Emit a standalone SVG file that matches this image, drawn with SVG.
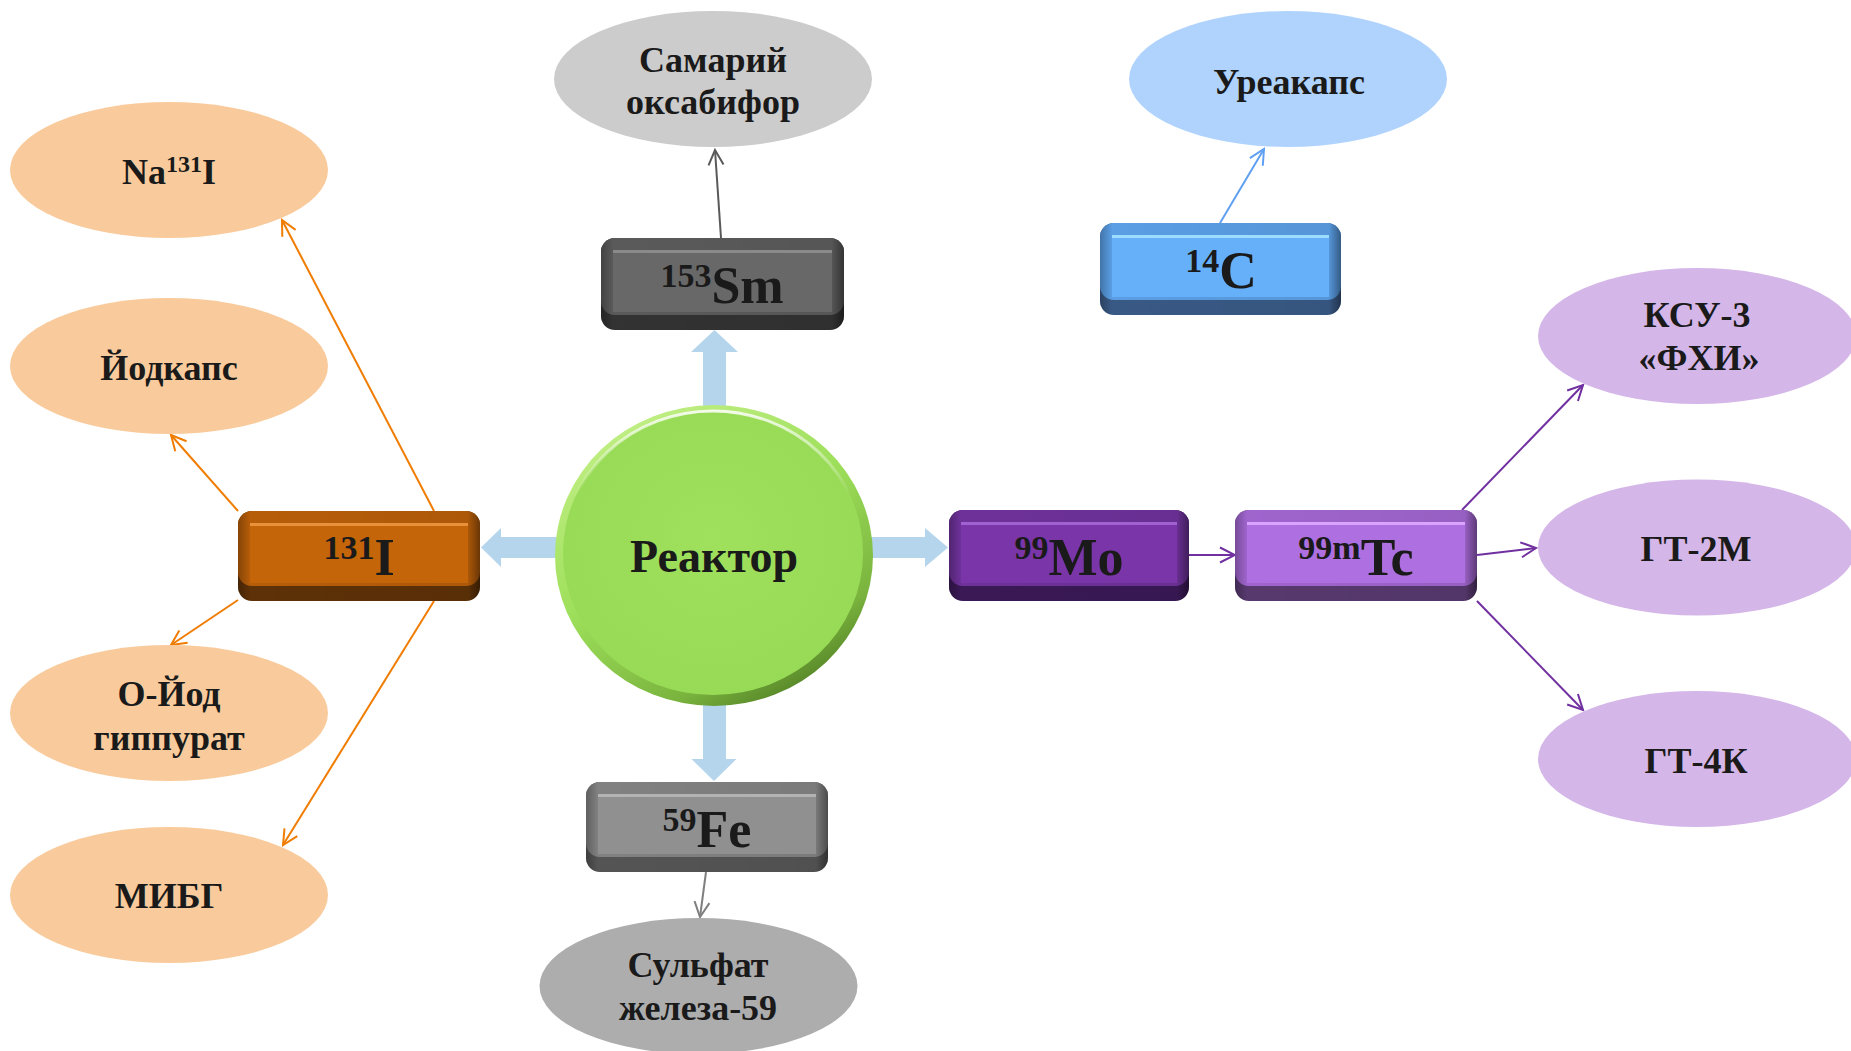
<svg xmlns="http://www.w3.org/2000/svg" width="1851" height="1051" viewBox="0 0 1851 1051">
<style>
text{font-family:"Liberation Serif","Times New Roman",serif;font-weight:bold;fill:#1a1a1a;text-anchor:middle}
.el{font-size:36px}
.bx{font-size:52px}
.sup{font-size:34px}
.ln{fill:none;stroke-width:2}
.blk{fill:#b4d5ec}
.hs{fill:url(#hshade)}
</style>
<defs>
<marker id="mO" viewBox="0 0 18 18" markerWidth="18" markerHeight="18" refX="16" refY="9" orient="auto" markerUnits="userSpaceOnUse"><path d="M1,1.5 L16,9 L1,16.5" fill="none" stroke="#f07c00" stroke-width="2"/></marker>
<marker id="mG" viewBox="0 0 18 18" markerWidth="18" markerHeight="18" refX="16" refY="9" orient="auto" markerUnits="userSpaceOnUse"><path d="M1,1.5 L16,9 L1,16.5" fill="none" stroke="#595959" stroke-width="2"/></marker>
<marker id="mF" viewBox="0 0 18 18" markerWidth="18" markerHeight="18" refX="16" refY="9" orient="auto" markerUnits="userSpaceOnUse"><path d="M1,1.5 L16,9 L1,16.5" fill="none" stroke="#7f7f7f" stroke-width="2"/></marker>
<marker id="mB" viewBox="0 0 18 18" markerWidth="18" markerHeight="18" refX="16" refY="9" orient="auto" markerUnits="userSpaceOnUse"><path d="M1,1.5 L16,9 L1,16.5" fill="none" stroke="#5fa0f2" stroke-width="2"/></marker>
<marker id="mP" viewBox="0 0 18 18" markerWidth="18" markerHeight="18" refX="16" refY="9" orient="auto" markerUnits="userSpaceOnUse"><path d="M1,1.5 L16,9 L1,16.5" fill="none" stroke="#7030a0" stroke-width="2"/></marker>
<linearGradient id="rim" x1="0.2" y1="0" x2="0.8" y2="1">
<stop offset="0" stop-color="#c4f088"/><stop offset="0.45" stop-color="#9ddf5a"/><stop offset="0.8" stop-color="#7ab43e"/><stop offset="1" stop-color="#4a7520"/>
</linearGradient>
<radialGradient id="face" cx="0.5" cy="0.45" r="0.6">
<stop offset="0" stop-color="#9fe05c"/><stop offset="1" stop-color="#97da55"/>
</radialGradient>
<linearGradient id="hl" x1="0" y1="0" x2="0" y2="1">
<stop offset="0" stop-color="#ffffff" stop-opacity="0.85"/><stop offset="0.3" stop-color="#ffffff" stop-opacity="0"/>
</linearGradient>
<linearGradient id="hshade" x1="0" y1="0" x2="1" y2="0">
<stop offset="0" stop-color="#000" stop-opacity="0.3"/><stop offset="0.05" stop-color="#000" stop-opacity="0.05"/><stop offset="0.95" stop-color="#000" stop-opacity="0.1"/><stop offset="1" stop-color="#000" stop-opacity="0.45"/>
</linearGradient>
</defs>

<g id="block-arrows">
<polygon class="blk" points="703,420 703,352 691,352 714.5,330 738,352 726,352 726,420"/>
<polygon class="blk" points="703,690 703,759 691.5,759 714,781 736.5,759 726,759 726,690"/>
<polygon class="blk" points="570,537 501,537 501,528 481,547.5 501,567 501,558 570,558"/>
<polygon class="blk" points="860,537 925,537 925,528 948,547.5 925,567 925,558 860,558"/>
</g>

<g id="connectors">
<line class="ln" stroke="#595959" x1="721" y1="238" x2="715" y2="150" marker-end="url(#mG)"/>
<line class="ln" stroke="#f07c00" x1="434" y1="511" x2="282" y2="220" marker-end="url(#mO)"/>
<line class="ln" stroke="#f07c00" x1="238" y1="511" x2="171" y2="435" marker-end="url(#mO)"/>
<line class="ln" stroke="#f07c00" x1="238" y1="600" x2="171" y2="645" marker-end="url(#mO)"/>
<line class="ln" stroke="#f07c00" x1="434" y1="601" x2="283" y2="845" marker-end="url(#mO)"/>
<line class="ln" stroke="#5fa0f2" x1="1220" y1="223" x2="1264" y2="149" marker-end="url(#mB)"/>
<line class="ln" stroke="#7f7f7f" x1="706" y1="872" x2="700" y2="917" marker-end="url(#mF)"/>
<line class="ln" stroke="#7030a0" x1="1189" y1="555" x2="1235" y2="555" marker-end="url(#mP)"/>
<line class="ln" stroke="#7030a0" x1="1462" y1="510" x2="1583" y2="385" marker-end="url(#mP)"/>
<line class="ln" stroke="#7030a0" x1="1477" y1="555" x2="1536" y2="548" marker-end="url(#mP)"/>
<line class="ln" stroke="#7030a0" x1="1477" y1="601" x2="1583" y2="710" marker-end="url(#mP)"/>
</g>

<g id="reactor">
<ellipse cx="714" cy="555.5" rx="159" ry="150.5" fill="url(#rim)"/>
<ellipse cx="713" cy="553" rx="150" ry="142" fill="url(#face)"/>
<ellipse cx="713" cy="553" rx="150" ry="142" fill="none" stroke="url(#hl)" stroke-width="3"/>
<text x="714" y="572" style="font-size:46px">Реактор</text>
</g>

<g id="samariy">
<ellipse cx="713" cy="79" rx="159" ry="68" fill="#cccccc"/>
<text class="el" x="713" y="72">Самарий</text>
<text class="el" x="713" y="114">оксабифор</text>
</g>

<g id="sm153">
<rect x="601" y="238" width="243" height="92" rx="14" fill="#353535"/>
<rect x="601" y="238" width="243" height="77" rx="14" fill="#5f5f5f"/>
<rect class="hs" x="601" y="238" width="243" height="92" rx="14"/>
<rect x="613" y="250" width="219" height="3" fill="#8a8a8a"/>
<rect x="613" y="253" width="219" height="59" fill="#686868"/>
<text class="bx" x="722" y="303"><tspan class="sup" dy="-16">153</tspan><tspan dy="16">Sm</tspan></text>
</g>

<g id="na131i">
<ellipse cx="169" cy="170" rx="159" ry="68" fill="#f9cb9c"/>
<text class="el" x="169" y="184">Na<tspan style="font-size:24px" dy="-12">131</tspan><tspan dy="12">I</tspan></text>
</g>

<g id="yodkaps">
<ellipse cx="169" cy="366" rx="159" ry="68" fill="#f9cb9c"/>
<text class="el" x="169" y="380">Йодкапс</text>
</g>

<g id="oyod">
<ellipse cx="169" cy="713" rx="159" ry="68" fill="#f9cb9c"/>
<text class="el" x="169" y="706">О-Йод</text>
<text class="el" x="169" y="750">гиппурат</text>
</g>

<g id="mibg">
<ellipse cx="169" cy="895" rx="159" ry="68" fill="#f9cb9c"/>
<text class="el" x="169" y="908">МИБГ</text>
</g>

<g id="i131">
<rect x="238" y="511" width="242" height="90" rx="14" fill="#633408"/>
<rect x="238" y="511" width="242" height="75" rx="14" fill="#c0620a"/>
<rect class="hs" x="238" y="511" width="242" height="90" rx="14"/>
<rect x="250" y="523" width="218" height="3" fill="#e9913a"/>
<rect x="250" y="526" width="218" height="57" fill="#c4650a"/>
<text class="bx" x="359" y="575"><tspan class="sup" dy="-16">131</tspan><tspan dy="16">I</tspan></text>
</g>

<g id="fe59">
<rect x="586" y="782" width="242" height="90" rx="14" fill="#595959"/>
<rect x="586" y="782" width="242" height="75" rx="14" fill="#888888"/>
<rect class="hs" x="586" y="782" width="242" height="90" rx="14"/>
<rect x="598" y="794" width="218" height="3" fill="#b3b3b3"/>
<rect x="598" y="797" width="218" height="57" fill="#909090"/>
<text class="bx" x="707" y="847"><tspan class="sup" dy="-16">59</tspan><tspan dy="16">Fe</tspan></text>
</g>

<g id="sulfat">
<ellipse cx="698.5" cy="986" rx="159" ry="68" fill="#adadae"/>
<text class="el" x="698" y="977">Сульфат</text>
<text class="el" x="698" y="1020">железа-59</text>
</g>

<g id="ureakaps">
<ellipse cx="1288" cy="79" rx="159" ry="68" fill="#b0d3fd"/>
<text class="el" x="1289" y="94">Уреакапс</text>
</g>

<g id="c14">
<rect x="1100" y="223" width="241" height="92" rx="14" fill="#3c5e8c"/>
<rect x="1100" y="223" width="241" height="77" rx="14" fill="#5fa6f0"/>
<rect class="hs" x="1100" y="223" width="241" height="92" rx="14"/>
<rect x="1112" y="235" width="217" height="3" fill="#9bdcff"/>
<rect x="1112" y="238" width="217" height="59" fill="#66aff9"/>
<text class="bx" x="1221" y="288"><tspan class="sup" dy="-16">14</tspan><tspan dy="16">C</tspan></text>
</g>

<g id="mo99">
<rect x="949" y="510" width="240" height="91" rx="14" fill="#3d1a5a"/>
<rect x="949" y="510" width="240" height="76" rx="14" fill="#7434a2"/>
<rect class="hs" x="949" y="510" width="240" height="91" rx="14"/>
<rect x="961" y="522" width="216" height="3" fill="#a062d0"/>
<rect x="961" y="525" width="216" height="58" fill="#7a36a8"/>
<text class="bx" x="1069" y="575"><tspan class="sup" dy="-16">99</tspan><tspan dy="16">Mo</tspan></text>
</g>

<g id="tc99m">
<rect x="1235" y="510" width="242" height="91" rx="14" fill="#5c3c74"/>
<rect x="1235" y="510" width="242" height="76" rx="14" fill="#a86ad8"/>
<rect class="hs" x="1235" y="510" width="242" height="91" rx="14"/>
<rect x="1247" y="522" width="218" height="3" fill="#d9a3ff"/>
<rect x="1247" y="525" width="218" height="58" fill="#ae70e0"/>
<text class="bx" x="1356" y="575"><tspan class="sup" dy="-16">99m</tspan><tspan dy="16">Tc</tspan></text>
</g>

<g id="ksu3">
<ellipse cx="1697" cy="336" rx="159" ry="68" fill="#d4b6e8"/>
<text class="el" x="1697" y="327">КСУ-3</text>
<text class="el" x="1699" y="370">«ФХИ»</text>
</g>

<g id="gt2m">
<ellipse cx="1697" cy="547.5" rx="159" ry="68" fill="#d4b6e8"/>
<text class="el" x="1696" y="561">ГТ-2М</text>
</g>

<g id="gt4k">
<ellipse cx="1697" cy="759" rx="159" ry="68" fill="#d4b6e8"/>
<text class="el" x="1696" y="773">ГТ-4К</text>
</g>
</svg>
